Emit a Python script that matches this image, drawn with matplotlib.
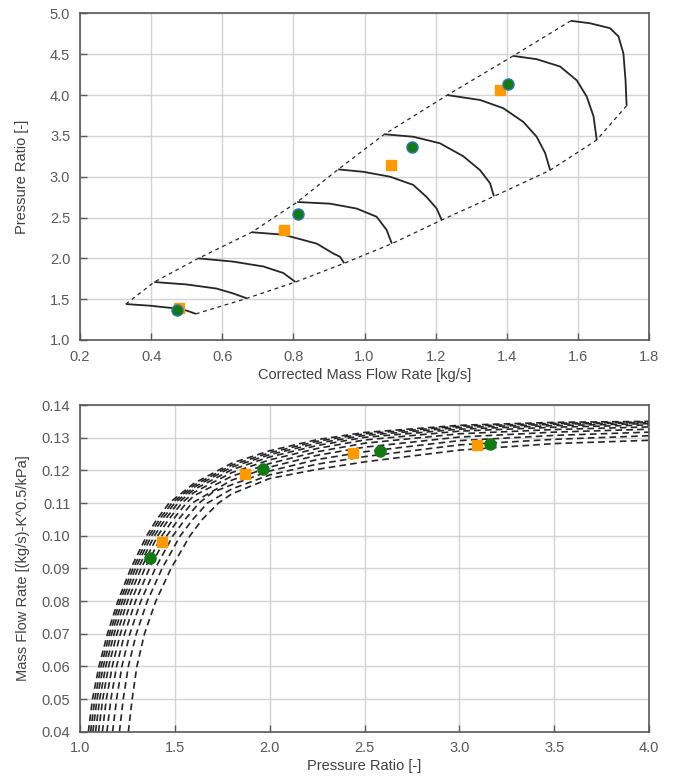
import numpy as np
import matplotlib
matplotlib.use("Agg")
import matplotlib.pyplot as plt
from matplotlib.ticker import MultipleLocator, FormatStrFormatter

plt.rcParams["font.family"] = ["Liberation Sans", "DejaVu Sans"]

# ---- compressor map: speed lines (corrected mass flow [kg/s], pressure ratio [-])
speed_lines = [
    ([0.329, 0.397, 0.462, 0.500, 0.526], [1.44, 1.42, 1.39, 1.36, 1.32]),
    ([0.409, 0.500, 0.584, 0.631, 0.669], [1.71, 1.68, 1.63, 1.57, 1.51]),
    ([0.533, 0.631, 0.716, 0.772, 0.806], [2.00, 1.96, 1.90, 1.82, 1.71]),
    ([0.683, 0.772, 0.866, 0.912, 0.931, 0.943], [2.32, 2.29, 2.18, 2.06, 2.02, 1.94]),
    ([0.811, 0.903, 0.978, 1.034, 1.062, 1.077], [2.69, 2.67, 2.61, 2.51, 2.35, 2.18]),
    ([0.926, 0.997, 1.072, 1.137, 1.175, 1.203, 1.217], [3.09, 3.06, 3.00, 2.90, 2.75, 2.61, 2.47]),
    ([1.056, 1.137, 1.212, 1.278, 1.325, 1.353, 1.364], [3.52, 3.49, 3.41, 3.25, 3.08, 2.92, 2.76]),
    ([1.233, 1.325, 1.390, 1.447, 1.484, 1.508, 1.522], [4.00, 3.94, 3.84, 3.67, 3.49, 3.29, 3.08]),
    ([1.418, 1.484, 1.550, 1.597, 1.625, 1.644, 1.653], [4.48, 4.44, 4.35, 4.18, 3.98, 3.74, 3.45]),
    ([1.580, 1.634, 1.690, 1.714, 1.728, 1.734, 1.737], [4.91, 4.88, 4.82, 4.72, 4.51, 4.18, 3.87]),
]

# measured / simulated operating points on the map
map_circle_flow = [0.473, 0.814, 1.134, 1.404]
map_circle_pr = [1.37, 2.54, 3.36, 4.13]
map_square_flow = [0.479, 0.775, 1.075, 1.382]
map_square_pr = [1.39, 2.35, 3.14, 4.06]

# ---- flow characteristic curves (pressure ratio [-], mass flow parameter)
flow_curves = [
    ([1.044, 1.066, 1.100, 1.145, 1.200, 1.268, 1.352, 1.405, 1.470, 1.6, 1.8, 2.0, 2.25, 2.5, 3.0, 3.5, 4.0],
     [0.040, 0.050, 0.060, 0.070, 0.080, 0.090, 0.100, 0.105, 0.110, 0.1160, 0.1222, 0.1260, 0.1294, 0.1316, 0.1338, 0.1347, 0.1350]),
    ([1.056, 1.078, 1.111, 1.156, 1.211, 1.280, 1.365, 1.419, 1.485, 1.6, 1.8, 2.0, 2.25, 2.5, 3.0, 3.5, 4.0],
     [0.040, 0.050, 0.060, 0.070, 0.080, 0.090, 0.100, 0.105, 0.110, 0.1154, 0.1216, 0.1254, 0.1289, 0.1312, 0.1335, 0.1344, 0.1348]),
    ([1.068, 1.090, 1.123, 1.167, 1.223, 1.292, 1.378, 1.433, 1.500, 1.6, 1.8, 2.0, 2.25, 2.5, 3.0, 3.5, 4.0],
     [0.040, 0.050, 0.060, 0.070, 0.080, 0.090, 0.100, 0.105, 0.110, 0.1148, 0.1210, 0.1248, 0.1283, 0.1307, 0.1331, 0.1341, 0.1346]),
    ([1.082, 1.104, 1.136, 1.180, 1.236, 1.306, 1.393, 1.449, 1.517, 1.6, 1.8, 2.0, 2.25, 2.5, 3.0, 3.5, 4.0],
     [0.040, 0.050, 0.060, 0.070, 0.080, 0.090, 0.100, 0.105, 0.110, 0.1141, 0.1202, 0.1241, 0.1276, 0.1301, 0.1326, 0.1337, 0.1343]),
    ([1.098, 1.120, 1.151, 1.195, 1.251, 1.322, 1.410, 1.468, 1.537, 1.6, 1.8, 2.0, 2.25, 2.5, 3.0, 3.5, 4.0],
     [0.040, 0.050, 0.060, 0.070, 0.080, 0.090, 0.100, 0.105, 0.110, 0.1132, 0.1193, 0.1232, 0.1267, 0.1293, 0.1320, 0.1332, 0.1339]),
    ([1.118, 1.139, 1.170, 1.213, 1.270, 1.342, 1.432, 1.491, 1.561, 1.6, 1.8, 2.0, 2.25, 2.5, 3.0, 3.5, 4.0],
     [0.040, 0.050, 0.060, 0.070, 0.080, 0.090, 0.100, 0.105, 0.110, 0.1122, 0.1182, 0.1221, 0.1257, 0.1283, 0.1312, 0.1325, 0.1333]),
    ([1.142, 1.163, 1.193, 1.235, 1.293, 1.366, 1.458, 1.519, 1.591, 1.8, 2.0, 2.25, 2.5, 3.0, 3.5, 4.0],
     [0.040, 0.050, 0.060, 0.070, 0.080, 0.090, 0.100, 0.105, 0.110, 0.1170, 0.1210, 0.1246, 0.1271, 0.1302, 0.1317, 0.1326]),
    ([1.172, 1.193, 1.221, 1.263, 1.321, 1.397, 1.490, 1.554, 1.628, 1.7, 1.8, 2.0, 2.25, 2.5, 3.0, 3.5, 4.0],
     [0.040, 0.050, 0.060, 0.070, 0.080, 0.090, 0.100, 0.105, 0.110, 0.1133, 0.1156, 0.1198, 0.1233, 0.1257, 0.1291, 0.1307, 0.1317]),
    ([1.208, 1.228, 1.255, 1.297, 1.355, 1.433, 1.529, 1.595, 1.672, 1.8, 2.0, 2.25, 2.5, 3.0, 3.5, 4.0],
     [0.040, 0.050, 0.060, 0.070, 0.080, 0.090, 0.100, 0.105, 0.110, 0.1143, 0.1186, 0.1219, 0.1242, 0.1278, 0.1295, 0.1306]),
    ([1.255, 1.275, 1.300, 1.340, 1.400, 1.480, 1.580, 1.645, 1.730, 1.8, 2.0, 2.25, 2.5, 3.0, 3.5, 4.0],
     [0.040, 0.050, 0.060, 0.070, 0.080, 0.090, 0.100, 0.105, 0.110, 0.1128, 0.1175, 0.1203, 0.1226, 0.1262, 0.1282, 0.1292]),
]

flow_circle_pr = [1.371, 1.967, 2.582, 3.162]
flow_circle_m = [0.0931, 0.1203, 0.1260, 0.1280]
flow_square_pr = [1.434, 1.870, 2.441, 3.093]
flow_square_m = [0.0982, 0.1190, 0.1254, 0.1277]

line_col = "#262626"
green = "#127a12"
orange = "#ff9900"
tick_col = "#595959"
label_col = "#404040"


def style_axes(ax):
    ax.grid(True, color="#d4d4d4", lw=1.0, zorder=0)
    ax.set_axisbelow(True)
    for s in ax.spines.values():
        s.set_color("#595959")
        s.set_linewidth(1.2)
    ax.tick_params(direction="in", length=5, width=1, color="#595959",
                   labelsize=10.5, labelcolor=tick_col, pad=7)


fig = plt.figure(figsize=(6.75, 7.78), dpi=100)
ax1 = fig.add_axes([0.1185, 0.563, 0.843, 0.4197])
ax2 = fig.add_axes([0.1185, 0.0595, 0.843, 0.4199])

# top: compressor map
surge_x = [l[0][0] for l in speed_lines]
surge_y = [l[1][0] for l in speed_lines]
choke_x = [l[0][-1] for l in speed_lines]
choke_y = [l[1][-1] for l in speed_lines]
ax1.plot(surge_x, surge_y, ls=(0, (3, 3)), color=line_col, lw=0.9, zorder=2)
ax1.plot(choke_x, choke_y, ls=(0, (3, 3)), color=line_col, lw=0.9, zorder=2)
for fx, fy in speed_lines:
    ax1.plot(fx, fy, color=line_col, lw=1.3, zorder=3, solid_capstyle="butt")
ax1.plot(map_square_flow, map_square_pr, ls="none", marker="s", ms=7.5,
         mfc=orange, mec=orange, zorder=4)
ax1.plot(map_circle_flow, map_circle_pr, ls="none", marker="o", ms=8,
         mfc=green, mec="#2e75b6", mew=1.0, zorder=5)

ax1.set_xlim(0.2, 1.8)
ax1.set_ylim(1.0, 5.0)
ax1.xaxis.set_major_locator(MultipleLocator(0.2))
ax1.yaxis.set_major_locator(MultipleLocator(0.5))
ax1.xaxis.set_major_formatter(FormatStrFormatter("%.1f"))
ax1.yaxis.set_major_formatter(FormatStrFormatter("%.1f"))
style_axes(ax1)
ax1.set_xlabel("Corrected Mass Flow Rate [kg/s]", fontsize=10.5, color=label_col)
ax1.set_ylabel("Pressure Ratio [-]", fontsize=10.5, color=label_col)
ax1.xaxis.set_label_coords(0.5, -0.086)
ax1.yaxis.set_label_coords(-0.09, 0.5)

# bottom: mass flow parameter vs pressure ratio
for pr, m in flow_curves:
    ax2.plot(pr, m, ls=(0, (4, 2.5)), color=line_col, lw=1.2, zorder=2)
ax2.plot(flow_square_pr, flow_square_m, ls="none", marker="s", ms=7.5,
         mfc=orange, mec=orange, zorder=4)
ax2.plot(flow_circle_pr, flow_circle_m, ls="none", marker="o", ms=8,
         mfc=green, mec=green, zorder=5)

ax2.set_xlim(1.0, 4.0)
ax2.set_ylim(0.04, 0.14)
ax2.xaxis.set_major_locator(MultipleLocator(0.5))
ax2.yaxis.set_major_locator(MultipleLocator(0.01))
ax2.xaxis.set_major_formatter(FormatStrFormatter("%.1f"))
ax2.yaxis.set_major_formatter(FormatStrFormatter("%.2f"))
style_axes(ax2)
ax2.set_xlabel("Pressure Ratio [-]", fontsize=10.5, color=label_col)
ax2.set_ylabel("Mass Flow Rate [(kg/s)-K^0.5/kPa]", fontsize=10.5, color=label_col)
ax2.xaxis.set_label_coords(0.5, -0.084)
ax2.yaxis.set_label_coords(-0.088, 0.5)

fig.savefig("out.png", dpi=100)
